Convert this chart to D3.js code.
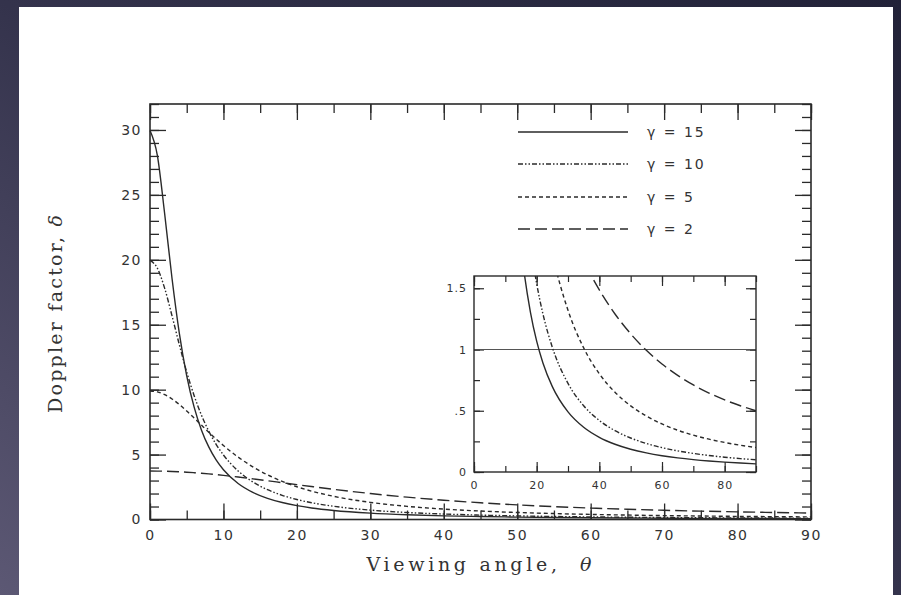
<!DOCTYPE html>
<html><head><meta charset="utf-8">
<script src="https://cdn.jsdelivr.net/npm/d3@7"></script>
<style>html,body{margin:0;padding:0;background:#2c2b42;} svg{display:block}</style>
</head><body><svg id="c" width="901" height="595"></svg>
<script>
// Viewing angle (degrees) and Doppler factor
const angles  = [0,1,2,3,4,5,6,7,8,9,10,12,14,16,18,20,22,25,30,35,40,45,50,55,60,65,70,75,80,85,90];
const gamma15 = [29.96,28.05,23.53,18.56,14.32,11.07,8.67,6.90,5.59,4.59,3.835,2.775,2.092,1.631,1.306,1.068,0.890,0.697,0.4905,0.365,0.2829,0.2264,0.1859,0.1559,0.1330,0.1153,0.1012,0.0899,0.0806,0.0730,0.0667];
const gamma10 = [19.95,19.36,17.80,15.68,13.45,11.36,9.557,8.045,6.805,5.793,4.968,3.738,2.893,2.296,1.862,1.538,1.291,1.018,0.7230,0.5407,0.4205,0.3373,0.2774,0.2329,0.1990,0.1726,0.1516,0.1347,0.1209,0.1095,0.1000];
const gamma5  = [9.899,9.827,9.615,9.282,8.853,8.357,7.821,7.271,6.725,6.198,5.700,4.806,4.056,3.439,2.934,2.522,2.185,1.786,1.320,1.013,0.8018,0.6511,0.5402,0.4566,0.3921,0.3413,0.3008,0.2680,0.2410,0.2187,0.2000];
const gamma2  = [3.732,3.728,3.717,3.699,3.674,3.642,3.604,3.560,3.511,3.457,3.398,3.270,3.131,2.985,2.835,2.685,2.538,2.324,2.000,1.721,1.486,1.290,1.128,0.9935,0.8819,0.7886,0.7104,0.6445,0.5885,0.5408,0.5000];
const seriesLabels = ["\u03b3 = 15","\u03b3 = 10","\u03b3 = 5","\u03b3 = 2"];
const seriesDash = [null,"5,2,1.5,2,1.5,2","4,3","12,5"];

const xMajorMain = [0,10,20,30,40,50,60,70,80,90];
const yMajorMain = [0,5,10,15,20,25,30];
const xMajorInset = [0,20,40,60,80];
const yMajorInset = [0,0.5,1,1.5];
const yInsetLabels = ["0",".5","1","1.5"];

const svg = d3.select("#c");
const defs = svg.append("defs");
const grad = defs.append("linearGradient").attr("id","bg").attr("x1","1").attr("y1","0").attr("x2","0").attr("y2","1");
grad.append("stop").attr("offset","0").attr("stop-color","#222238");
grad.append("stop").attr("offset","0.5").attr("stop-color","#34334c");
grad.append("stop").attr("offset","1").attr("stop-color","#5c5874");
svg.append("rect").attr("width",901).attr("height",595).attr("fill","url(#bg)");
svg.append("rect").attr("x",19).attr("y",7).attr("width",874).attr("height",600).attr("fill","#ffffff");

const ink = "#2a2a2a";
const series = [gamma15, gamma10, gamma5, gamma2];

// ---------- main plot ----------
const M = {l:150, r:811, t:104, b:519.5};
const x = d3.scaleLinear().domain([0,90]).range([M.l,M.r]);
const y = d3.scaleLinear().domain([0,32]).range([M.b,M.t]);
const main = svg.append("g");

function styleAxis(g){
  g.select(".domain").remove();
  g.selectAll("line").attr("stroke",ink).attr("stroke-width",1.3);
  g.selectAll("text").attr("fill","#333").attr("font-family","DejaVu Sans, sans-serif")
    .attr("font-size",14).attr("letter-spacing","1.5px");
}
const xMinor = d3.range(0,91,5), yMinor = d3.range(0,33,1);
main.append("g").attr("transform",`translate(0,${M.b})`)
  .call(d3.axisBottom(x).tickValues(xMinor).tickSize(-9).tickFormat("")).call(styleAxis);
main.append("g").attr("transform",`translate(0,${M.b})`)
  .call(d3.axisBottom(x).tickValues(xMajorMain).tickSize(-16).tickPadding(11).tickFormat(d3.format("d"))).call(styleAxis);
main.append("g").attr("transform",`translate(0,${M.t})`)
  .call(d3.axisTop(x).tickValues(xMinor).tickSize(-9).tickFormat("")).call(styleAxis);
main.append("g").attr("transform",`translate(0,${M.t})`)
  .call(d3.axisTop(x).tickValues(xMajorMain).tickSize(-16).tickFormat("")).call(styleAxis);
main.append("g").attr("transform",`translate(${M.l},0)`)
  .call(d3.axisLeft(y).tickValues(yMinor).tickSize(-9).tickFormat("")).call(styleAxis);
main.append("g").attr("transform",`translate(${M.l},0)`)
  .call(d3.axisLeft(y).tickValues(yMajorMain).tickSize(-16).tickPadding(8).tickFormat(d3.format("d"))).call(styleAxis);
main.append("g").attr("transform",`translate(${M.r},0)`)
  .call(d3.axisRight(y).tickValues(yMinor).tickSize(-9).tickFormat("")).call(styleAxis);
main.append("g").attr("transform",`translate(${M.r},0)`)
  .call(d3.axisRight(y).tickValues(yMajorMain).tickSize(-16).tickFormat("")).call(styleAxis);
main.append("rect").attr("x",M.l).attr("y",M.t).attr("width",M.r-M.l).attr("height",M.b-M.t)
  .attr("fill","none").attr("stroke",ink).attr("stroke-width",1.6);

const line = d3.line().x((d,i)=>x(angles[i])).y(d=>y(d)).curve(d3.curveMonotoneX);
series.forEach((s,k)=>{
  main.append("path").attr("d",line(s)).attr("fill","none").attr("stroke",ink)
    .attr("stroke-width",1.4).attr("stroke-dasharray",seriesDash[k]);
});

// legend
const legRows = [132,164,197,229];
seriesLabels.forEach((lab,k)=>{
  main.append("line").attr("x1",518).attr("x2",628).attr("y1",legRows[k]).attr("y2",legRows[k])
    .attr("stroke",ink).attr("stroke-width",1.4).attr("stroke-dasharray",seriesDash[k]);
  main.append("text").attr("x",647).attr("y",legRows[k]+5).text(lab)
    .attr("fill","#333").attr("font-family","DejaVu Sans, sans-serif").attr("font-size",14)
    .attr("xml:space","preserve").attr("letter-spacing","2px");
});

// axis titles
svg.append("text").attr("x",479).attr("y",571).attr("text-anchor","middle")
  .attr("font-family","DejaVu Serif, serif").attr("font-size",19).attr("fill","#333")
  .attr("textLength",225).attr("lengthAdjust","spacing")
  .html('Viewing angle,&#160; <tspan font-style="italic">\u03b8</tspan>');
svg.append("text").attr("transform","translate(62,314) rotate(-90)").attr("text-anchor","middle")
  .attr("font-family","DejaVu Serif, serif").attr("font-size",19).attr("fill","#333")
  .attr("textLength",198).attr("lengthAdjust","spacing")
  .html('Doppler factor,&#160;<tspan font-style="italic">\u03b4</tspan>');

// ---------- inset ----------
const I = {l:474, r:756, t:276, b:472};
const xi = d3.scaleLinear().domain([0,90]).range([I.l,I.r]);
const yi = d3.scaleLinear().domain([0,1.6]).range([I.b,I.t]);
const inset = svg.append("g");
inset.append("rect").attr("x",I.l).attr("y",I.t).attr("width",I.r-I.l).attr("height",I.b-I.t).attr("fill","#fff");
defs.append("clipPath").attr("id","ic").append("rect").attr("x",I.l).attr("y",I.t).attr("width",I.r-I.l).attr("height",I.b-I.t);

function styleInset(g){
  g.select(".domain").remove();
  g.selectAll("line").attr("stroke",ink).attr("stroke-width",1.2);
  g.selectAll("text").attr("fill","#333").attr("font-family","DejaVu Sans, sans-serif")
    .attr("font-size",11).attr("letter-spacing","1px");
}
const xiMinor = d3.range(0,91,10), yiMinor = d3.range(0,1.6,0.25);
inset.append("g").attr("transform",`translate(0,${I.b})`)
  .call(d3.axisBottom(xi).tickValues(xiMinor).tickSize(-6).tickFormat("")).call(styleInset);
inset.append("g").attr("transform",`translate(0,${I.b})`)
  .call(d3.axisBottom(xi).tickValues(xMajorInset).tickSize(-10).tickPadding(9).tickFormat(d3.format("d"))).call(styleInset);
inset.append("g").attr("transform",`translate(0,${I.t})`)
  .call(d3.axisTop(xi).tickValues(xiMinor).tickSize(-6).tickFormat("")).call(styleInset);
inset.append("g").attr("transform",`translate(0,${I.t})`)
  .call(d3.axisTop(xi).tickValues(xMajorInset).tickSize(-10).tickFormat("")).call(styleInset);
inset.append("g").attr("transform",`translate(${I.l},0)`)
  .call(d3.axisLeft(yi).tickValues(yiMinor).tickSize(-6).tickFormat("")).call(styleInset);
inset.append("g").attr("transform",`translate(${I.l},0)`)
  .call(d3.axisLeft(yi).tickValues(yMajorInset).tickSize(-10).tickPadding(7).tickFormat((d,i)=>yInsetLabels[i])).call(styleInset);
inset.append("g").attr("transform",`translate(${I.r},0)`)
  .call(d3.axisRight(yi).tickValues(yiMinor).tickSize(-6).tickFormat("")).call(styleInset);
inset.append("g").attr("transform",`translate(${I.r},0)`)
  .call(d3.axisRight(yi).tickValues(yMajorInset).tickSize(-10).tickFormat("")).call(styleInset);

inset.append("line").attr("x1",I.l).attr("x2",I.r).attr("y1",yi(1)).attr("y2",yi(1))
  .attr("stroke","#555").attr("stroke-width",1.2);
const lineI = d3.line().x((d,i)=>xi(angles[i])).y(d=>yi(Math.min(d,3))).curve(d3.curveMonotoneX);
const ic = inset.append("g").attr("clip-path","url(#ic)");
series.forEach((s,k)=>{
  ic.append("path").attr("d",lineI(s)).attr("fill","none").attr("stroke",ink)
    .attr("stroke-width",1.4).attr("stroke-dasharray",seriesDash[k]);
});
inset.append("rect").attr("x",I.l).attr("y",I.t).attr("width",I.r-I.l).attr("height",I.b-I.t)
  .attr("fill","none").attr("stroke",ink).attr("stroke-width",1.4);
</script>
</body></html>
